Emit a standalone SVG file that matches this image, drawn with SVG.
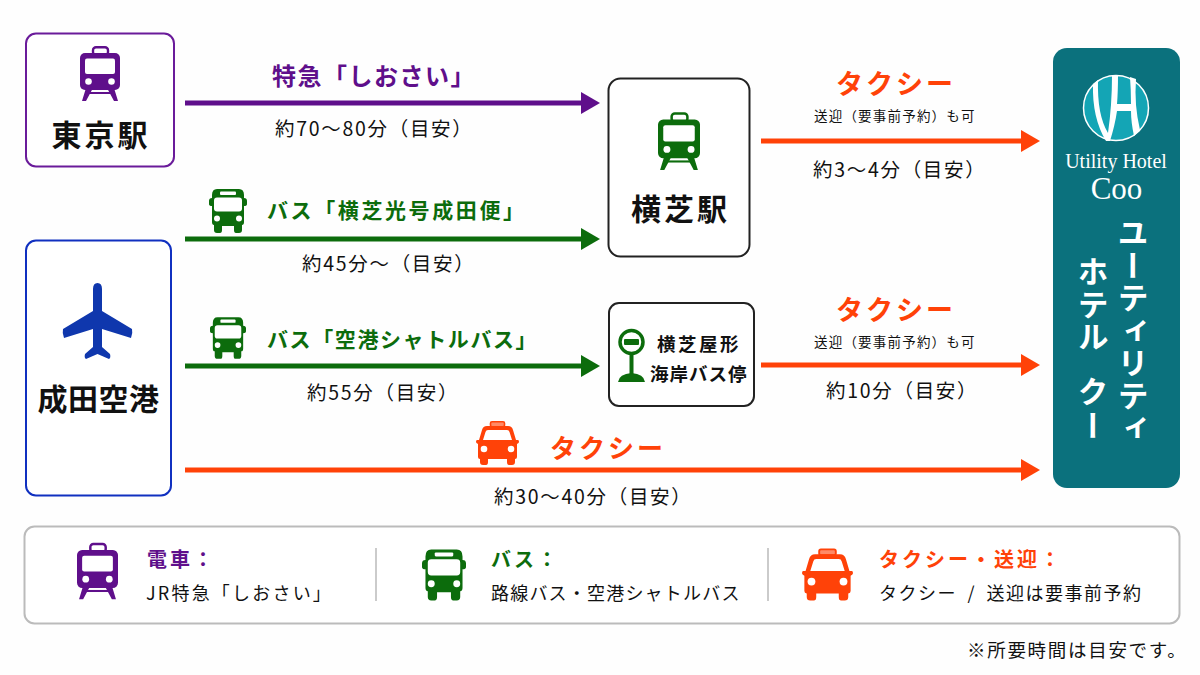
<svg xmlns="http://www.w3.org/2000/svg" width="1200" height="675" viewBox="0 0 1200 675">
<style>
text{font-family:"Noto Sans CJK JP","Noto Sans",sans-serif;fill:#111}
.m{text-anchor:middle}
.nm{font-size:30px;font-weight:700;letter-spacing:3px}
.t{font-size:19.500px;letter-spacing:1.700px}
.s{font-size:13.500px;letter-spacing:1.200px}
.lb{font-size:24px;font-weight:700;letter-spacing:1.500px}
.bl{font-size:21px;font-weight:700;letter-spacing:1.600px;fill:#0c6c0c}
.tx{font-size:27px;font-weight:700;fill:#ff4208;letter-spacing:3px}
.p{fill:#5f0f8b}.g{fill:#0c6c0c}.o{fill:#ff4208}
.box{fill:#fff;stroke-width:2}
.lg{font-size:20px;font-weight:700;letter-spacing:3px}
.ld{font-size:18px;letter-spacing:1.200px}
.ln{stroke-width:5;fill:none}
.v{writing-mode:vertical-rl;font-size:31px;font-weight:700;fill:#fff;letter-spacing:1.500px}
</style>
<defs>
<symbol id="train" viewBox="0 0 40 55" overflow="visible">
<rect x="13" y="1.200" width="15" height="8" rx="3" fill="none" stroke="currentColor" stroke-width="2.400"/>
<rect x="0" y="7" width="40" height="37" rx="5" fill="currentColor"/>
<rect x="5" y="12.500" width="30" height="15.500" rx="2" fill="#fff"/>
<circle cx="8.500" cy="35.500" r="3.300" fill="#fff"/><circle cx="31.500" cy="35.500" r="3.300" fill="#fff"/>
<path d="M6 42h7l-7 13H2zM34 42h-7l7 13h4z" fill="currentColor"/>
<rect x="9" y="46" width="22" height="2" fill="currentColor"/>
</symbol>
<symbol id="bus" viewBox="0 0 38 44" overflow="visible">
<path d="M8 0H30Q35 0 35 6V9Q38 9 38 12V15Q38 17 35 17V33Q35 36 33 36V41Q33 44 30 44H27Q25 44 25 41V37H13V41Q13 44 11 44H8Q5 44 5 41V36Q3 36 3 33V17Q0 17 0 15V12Q0 9 3 9V6Q3 0 8 0Z" fill="currentColor"/>
<rect x="11" y="2.500" width="16" height="3.500" rx="1" fill="#fff"/>
<rect x="5" y="8.500" width="28" height="14" rx="3" fill="#fff"/>
<circle cx="8" cy="29.500" r="3" fill="#fff"/><circle cx="30" cy="29.500" r="3" fill="#fff"/>
</symbol>
<symbol id="taxi" viewBox="0 0 43 44" overflow="visible">
<rect x="14.500" y="0.800" width="14" height="5" rx="1.500" fill="#ff8a66" stroke="currentColor" stroke-width="1.600"/>
<path d="M11 5H32Q36 5 37 9L40 19H42Q43 19 43 21Q43 22 41 23V36Q41 38 39 38V41Q39 44 36 44H33Q31 44 31 41V38H12V41Q12 44 10 44H7Q4 44 4 41V38Q2 38 2 36V23Q0 22 0 21Q0 19 1 19H3L6 9Q7 5 11 5Z" fill="currentColor"/>
<path d="M12 9H31Q33 9 33.500 11L36 19H7L9.500 11Q10 9 12 9Z" fill="#fff"/>
<circle cx="8" cy="28" r="3.300" fill="#fff"/><circle cx="35" cy="28" r="3.300" fill="#fff"/>
</symbol>
</defs>
<rect width="1200" height="675" fill="#fefefe"/>

<g id="connectors">
<g stroke="#5f0f8b" class="ln"><path d="M185 103H585"/></g><path class="p" d="M581 92L600 103L581 114Z"/>
<g stroke="#0c6c0c" class="ln"><path d="M185 239H585"/><path d="M185 366H585"/></g>
<path class="g" d="M581 228L600 239L581 250Z"/><path class="g" d="M581 355L600 366L581 377Z"/>
<g stroke="#ff4208" class="ln"><path d="M761 141H1025"/><path d="M761 365H1025"/><path d="M185 470H1025"/></g>
<path class="o" d="M1021 130L1040 141L1021 152Z"/><path class="o" d="M1021 354L1040 365L1021 376Z"/><path class="o" d="M1021 459L1040 470L1021 481Z"/>
</g>

<g id="tokyo">
<rect class="box" x="26" y="33.500" width="148" height="133" rx="10" stroke="#6a1b9a"/>
<use href="#train" x="80" y="46" width="40" height="55" color="#5f0f8b"/>
<text class="nm m" x="101" y="146">東京駅</text>
</g>
<g id="narita">
<rect class="box" x="26" y="240.500" width="145" height="255" rx="10" stroke="#1030c0"/>
<path d="M97.500 283Q102 283 102 289V311L132 329Q133 333 131 338L102 329V347L110 354Q111 358 109 359L97.500 354L86 359Q84 358 85 354L93 347V329L64 338Q62 333 63 329L93 311V289Q93 283 97.500 283Z" fill="#0f37ad"/>
<text class="nm m" x="98.500" y="410" style="letter-spacing:.5px">成田空港</text>
</g>
<g id="yokoshiba">
<rect class="box" x="608.500" y="78.500" width="141" height="178" rx="12" stroke="#222"/>
<use href="#train" x="658" y="112" width="42" height="58" color="#0c6c0c"/>
<text class="nm m" x="680.500" y="220">横芝駅</text>
</g>
<g id="busstop">
<rect class="box" x="609" y="303" width="145" height="103" rx="10" stroke="#222"/>
<circle cx="631.500" cy="342" r="11.500" fill="none" stroke="#0c6c0c" stroke-width="3.500"/>
<rect x="624" y="339" width="15" height="6" rx="1" class="g"/>
<rect x="629.500" y="354" width="4" height="20" class="g"/>
<path d="M618 382Q619 374 631.500 373Q644 374 645 382Z" class="g"/>
<text x="657" y="351" font-size="18.500" font-weight="700" letter-spacing="2.500">横芝屋形</text>
<text x="650" y="381" font-size="18.500" font-weight="700" letter-spacing="1">海岸バス停</text>
</g>
<g id="hotel">
<rect x="1053" y="48" width="127" height="440" rx="14" fill="#0b717d"/>
<circle cx="1116" cy="108" r="32.500" fill="#14a5b5" stroke="#fff" stroke-width="1.500"/>
<path d="M1093 84L1098 80Q1097 115 1108 133Q1112 105 1112 76L1118 75Q1118 92 1117 104H1131Q1131 90 1130 77L1136 79Q1134 105 1140 130L1134 136Q1131 122 1131 111H1117Q1115 125 1110 141H1106Q1092 118 1093 84Z" fill="#fff"/>
<text class="m" x="1116" y="168" font-size="20" style="font-family:'Liberation Serif',serif;fill:#fff">Utility Hotel</text>
<text class="m" x="1116.500" y="199" font-size="31" style="font-family:'Liberation Serif',serif;fill:#fff">Coo</text>
<text class="v" x="1133" y="217">ユーティリティ</text>
<text class="v" x="1093" y="256">ホテル<tspan dy="22" style="letter-spacing:3px">クー</tspan></text>
</g>

<g id="labels">
<text class="lb" x="272" y="85" style="fill:#5f0f8b">特急「しおさい」</text>
<text class="t" x="275" y="136">約70～80分（目安）</text>
<use href="#bus" x="209" y="189" width="38" height="44" color="#0c6c0c"/>
<text class="bl" x="267" y="218" style="letter-spacing:2.600px">バス「横芝光号成田便」</text>
<text class="t" x="302" y="271">約45分～（目安）</text>
<use href="#bus" x="210" y="316" width="36" height="44" color="#0c6c0c"/>
<text class="bl" x="267" y="347">バス「空港シャトルバス」</text>
<text class="t" x="307" y="400">約55分（目安）</text>
<text class="tx m" x="896" y="94">タクシー</text>
<text class="s" x="814" y="121">送迎（要事前予約）も可</text>
<text class="t" x="813" y="177">約3～4分（目安）</text>
<text class="tx m" x="896" y="320">タクシー</text>
<text class="s" x="814" y="347">送迎（要事前予約）も可</text>
<text class="t" x="826" y="398">約10分（目安）</text>
<use href="#taxi" x="476" y="421" width="43" height="44" color="#ff4208"/>
<text class="tx m" x="608" y="458" style="font-size:26px">タクシー</text>
<text class="t" x="494" y="504">約30～40分（目安）</text>
</g>

<g id="legend">
<rect x="24.500" y="526.500" width="1155" height="97" rx="10" fill="#fff" stroke="#bbb" stroke-width="2"/>
<path d="M376 548V601M768 548V601" stroke="#bbb" stroke-width="1.500"/>
<use href="#train" x="77" y="542" width="41" height="58" color="#5f0f8b"/>
<text class="lg" x="147" y="567" style="fill:#5f0f8b">電車：</text>
<text class="ld" x="146" y="600" style="letter-spacing:2.200px">JR特急「しおさい」</text>
<use href="#bus" x="422" y="549" width="44" height="52" color="#0c6c0c"/>
<text class="lg" x="491" y="567" style="fill:#0c6c0c">バス：</text>
<text class="ld" x="491" y="600">路線バス・空港シャトルバス</text>
<use href="#taxi" x="802" y="548" width="51" height="53" color="#ff4208"/>
<text class="lg" x="879" y="567" style="fill:#ff4208">タクシー・送迎：</text>
<text class="ld" x="879" y="600" style="word-spacing:5px;letter-spacing:1.500px">タクシー / 送迎は要事前予約</text>
</g>
<text x="967" y="657" font-size="18.500" letter-spacing="1.700">※所要時間は目安です。</text>
</svg>
